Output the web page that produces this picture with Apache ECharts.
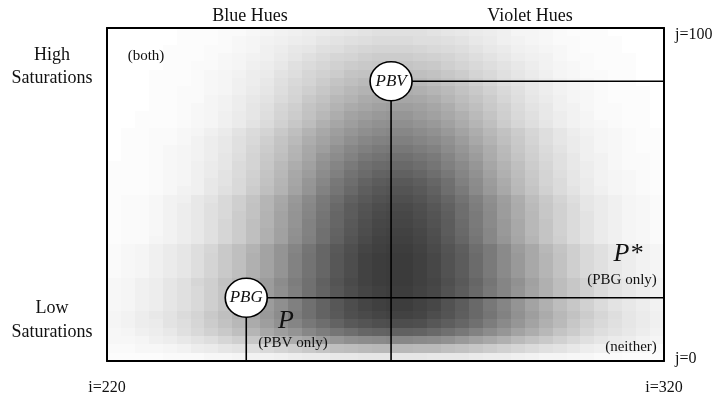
<!DOCTYPE html>
<html>
<head>
<meta charset="utf-8">
<title>Hue / saturation density</title>
<script src="https://cdn.jsdelivr.net/npm/echarts@6/dist/echarts.min.js"></script>
<style>
  html, body { margin: 0; padding: 0; background: #fff; }
  #chart { width: 719px; height: 398px; }
</style>
</head>
<body>
<div id="chart"></div>
<script>
// Hue index i (columns) and saturation index j (rows)
const iRange = [220, 320];
const jRange = [0, 100];
const iTickLabels = ['i=220', 'i=320'];
const jTickLabels = ['j=0', 'j=100'];

// Bin centres of the density grid
const iBins = [221.25, 223.75, 226.25, 228.75, 231.25, 233.75, 236.25, 238.75, 241.25, 243.75,
  246.25, 248.75, 251.25, 253.75, 256.25, 258.75, 261.25, 263.75, 266.25, 268.75,
  271.25, 273.75, 276.25, 278.75, 281.25, 283.75, 286.25, 288.75, 291.25, 293.75,
  296.25, 298.75, 301.25, 303.75, 306.25, 308.75, 311.25, 313.75, 316.25, 318.75];
const jBins = [1.25, 3.75, 6.25, 8.75, 11.25, 13.75, 16.25, 18.75, 21.25, 23.75,
  26.25, 28.75, 31.25, 33.75, 36.25, 38.75, 41.25, 43.75, 46.25, 48.75,
  51.25, 53.75, 56.25, 58.75, 61.25, 63.75, 66.25, 68.75, 71.25, 73.75,
  76.25, 78.75, 81.25, 83.75, 86.25, 88.75, 91.25, 93.75, 96.25, 98.75];

// Density (percent), one row per j bin, listed from j=100 (top) down to j=0
const densityRows = [
  [0,0,0,0,0,1,1,1,2,2,3,4,5,6,7,8,9,10,11,12,12,12,12,11,10,9,8,7,6,4,4,3,2,1,1,1,0,0,0,0],
  [0,0,0,0,0,1,1,1,2,3,4,5,6,7,8,10,11,12,13,14,14,14,13,13,12,11,9,8,6,5,4,3,2,2,1,1,1,0,0,0],
  [0,0,0,0,1,1,1,2,2,3,4,6,7,9,10,12,13,15,16,17,17,17,16,15,14,13,11,9,8,6,5,4,3,2,1,1,1,0,0,0],
  [0,0,0,0,1,1,1,2,3,4,5,6,8,10,12,14,16,17,19,20,20,20,19,18,17,15,13,11,9,7,6,5,3,2,2,1,1,1,0,0],
  [0,0,0,0,1,1,2,2,3,4,6,7,9,12,14,16,18,20,21,22,23,23,22,21,19,17,15,13,11,9,7,5,4,3,2,1,1,1,0,0],
  [0,0,0,1,1,1,2,3,4,5,7,8,11,13,16,18,20,23,24,25,26,26,25,24,22,20,17,15,12,10,8,6,4,3,2,2,1,1,0,0],
  [0,0,0,1,1,1,2,3,4,6,7,9,12,15,17,20,23,25,27,28,29,29,28,26,24,22,19,16,13,11,9,7,5,4,3,2,1,1,0,0],
  [0,0,0,1,1,2,2,3,4,6,8,10,13,16,19,22,25,28,30,31,32,32,31,29,27,24,21,18,15,12,9,7,5,4,3,2,1,1,1,0],
  [0,0,0,1,1,2,2,4,5,7,9,11,14,17,21,24,28,30,33,34,35,35,34,32,29,26,23,20,16,13,10,8,6,4,3,2,1,1,1,0],
  [0,0,0,1,1,2,3,4,5,7,10,12,16,19,23,26,30,33,35,37,38,38,37,35,32,28,25,21,18,14,11,9,6,5,3,2,2,1,1,0],
  [0,0,1,1,1,2,3,4,6,8,10,13,17,20,24,28,32,36,38,40,41,41,39,37,34,31,27,23,19,15,12,9,7,5,4,2,2,1,1,0],
  [0,0,1,1,1,2,3,4,6,8,11,14,18,22,26,31,35,38,41,43,44,44,42,40,37,33,29,25,20,16,13,10,7,5,4,3,2,1,1,0],
  [0,1,1,2,2,3,4,6,8,11,14,17,21,25,30,34,38,41,44,46,47,47,45,43,40,36,32,28,24,20,16,13,10,7,5,4,3,2,1,1],
  [0,1,1,2,2,3,5,7,9,12,15,19,23,27,32,36,40,44,47,49,50,50,48,46,43,39,34,30,25,21,17,13,10,8,6,4,3,2,1,1],
  [0,1,1,2,3,4,5,7,9,12,16,20,24,29,34,38,43,47,50,52,53,53,51,49,45,41,37,32,27,22,18,14,11,8,6,4,3,2,1,1],
  [0,1,1,2,3,4,5,7,10,13,17,21,25,30,35,41,45,49,53,55,56,56,54,52,48,43,39,33,28,23,19,15,12,9,6,5,3,2,2,1],
  [1,1,1,2,3,4,6,8,10,14,17,22,27,32,37,43,48,52,56,58,59,59,57,54,50,46,41,35,30,25,20,16,12,9,7,5,3,2,2,1],
  [1,1,1,2,3,4,6,8,11,14,18,23,28,34,39,45,50,55,58,61,62,62,60,57,53,48,43,37,31,26,21,17,13,10,7,5,4,3,2,1],
  [1,1,1,2,3,4,6,9,11,15,19,24,29,35,41,47,53,57,61,64,65,65,63,60,56,50,45,39,33,27,22,17,14,10,8,5,4,3,2,1],
  [1,1,1,2,3,5,6,9,12,15,20,25,30,36,42,49,54,59,63,66,67,67,65,62,57,52,46,40,34,28,23,18,14,11,8,6,4,3,2,1],
  [1,2,2,3,5,6,9,11,15,19,23,29,34,40,46,52,57,62,65,68,69,69,67,64,60,55,50,44,38,32,26,21,17,13,10,8,6,4,3,2],
  [1,2,2,3,5,7,9,12,15,19,24,29,35,41,47,53,59,64,67,70,71,71,69,66,62,57,51,45,39,33,27,22,18,14,10,8,6,4,3,2],
  [1,2,2,3,5,7,9,12,15,20,24,30,36,42,48,54,60,64,68,71,72,72,70,67,63,57,52,46,39,33,28,22,18,14,11,8,6,4,3,2],
  [1,2,2,3,5,7,9,12,16,20,25,30,36,42,49,55,60,65,69,72,73,73,71,68,64,58,52,46,40,34,28,23,18,14,11,8,6,4,3,2],
  [1,2,2,3,5,7,9,12,16,20,25,31,37,43,49,56,61,66,70,73,74,74,72,69,64,59,53,47,40,34,28,23,18,14,11,8,6,4,3,2],
  [1,2,2,4,5,7,9,12,16,20,25,31,37,44,50,56,62,67,71,74,75,75,73,70,65,60,54,47,41,35,29,23,19,14,11,8,6,4,3,2],
  [2,3,4,6,8,10,13,16,21,25,30,36,42,48,54,60,65,69,73,75,76,76,74,71,67,63,57,52,46,39,34,28,23,19,15,12,9,7,5,4],
  [2,3,4,6,8,10,13,17,21,25,31,36,42,49,55,60,66,70,74,76,77,77,75,72,68,64,58,52,46,40,34,29,24,19,15,12,9,7,5,4],
  [2,3,4,6,8,10,13,17,21,25,31,36,42,49,55,60,66,70,74,76,77,77,75,72,68,64,58,52,46,40,34,29,24,19,15,12,9,7,5,4],
  [2,3,4,6,8,10,13,17,21,25,31,36,42,49,55,60,66,70,74,76,77,77,75,72,68,64,58,52,46,40,34,29,24,19,15,12,9,7,5,4],
  [3,4,6,7,10,12,16,19,24,28,34,39,45,51,56,62,67,71,74,76,77,77,75,73,69,65,60,54,48,43,37,31,26,22,18,14,11,9,7,5],
  [3,4,6,7,10,12,15,19,23,28,33,39,44,50,56,61,66,70,73,75,76,76,74,72,68,64,59,53,48,42,36,31,26,22,18,14,11,9,7,5],
  [3,4,6,7,10,12,15,19,23,28,33,39,44,50,56,61,66,70,73,75,76,76,74,72,68,64,59,53,48,42,36,31,26,22,18,14,11,9,7,5],
  [3,4,6,7,10,12,15,19,23,28,33,39,44,50,56,61,66,70,73,75,76,76,74,72,68,64,59,53,48,42,36,31,26,22,18,14,11,9,7,5],
  [4,5,7,9,11,14,17,21,25,30,35,40,45,51,56,61,65,69,71,73,74,74,73,70,67,63,59,54,49,43,38,33,28,24,20,16,13,10,8,6],
  [4,5,7,8,11,13,16,20,24,28,33,38,43,48,53,57,61,65,67,69,70,70,69,66,63,60,56,51,46,41,36,31,27,22,18,15,12,10,8,6],
  [3,4,6,7,9,12,15,18,21,25,29,34,38,42,47,51,54,57,60,61,62,62,61,59,56,53,49,45,41,36,32,28,23,20,16,13,11,9,7,5],
  [3,3,4,6,7,9,11,13,16,19,22,25,29,32,35,39,41,44,45,46,47,47,46,45,43,40,37,34,31,27,24,21,18,15,12,10,8,7,5,4],
  [2,2,3,3,4,5,7,8,10,11,13,15,17,19,21,23,25,26,27,28,28,28,27,27,25,24,22,20,18,16,14,12,11,9,7,6,5,4,3,2],
  [1,1,1,1,2,2,2,3,3,4,5,5,6,7,8,8,9,9,10,10,10,10,10,9,9,9,8,7,7,6,5,4,4,3,3,2,2,1,1,1]
];

// Reference points: the two hue/saturation markers
const markerNames = ['PBV', 'PBG'];
const markerI = [271, 245];
const markerJ = [84, 19];

// Density cells: [i centre, j centre, density]
const cells = [];
densityRows.forEach(function (row, t) {
  const jc = jBins[densityRows.length - 1 - t];
  row.forEach(function (v, c) { cells.push([iBins[c], jc, v]); });
});
const halfI = (iBins[1] - iBins[0]) / 2;
const halfJ = (jBins[1] - jBins[0]) / 2;

// Cells are snapped to whole pixels so neighbours meet without seams
function renderCell(params, api) {
  const i = api.value(0), j = api.value(1);
  const p0 = api.coord([i - halfI, j + halfJ]);
  const p1 = api.coord([i + halfI, j - halfJ]);
  const x0 = Math.round(p0[0]), y0 = Math.round(p0[1]);
  const x1 = Math.round(p1[0]), y1 = Math.round(p1[1]);
  return {
    type: 'rect',
    shape: { x: x0, y: y0, width: x1 - x0, height: y1 - y0 },
    style: { fill: api.visual('color') }
  };
}

// Each marker drops a line to j=0 and runs a line across to i=320
const guideSeries = markerNames.map(function (name, k) {
  return {
    type: 'line',
    z: 5,
    silent: true,
    symbol: 'none',
    lineStyle: { color: '#000', width: 1.6 },
    data: [[markerI[k], jRange[0]], [markerI[k], markerJ[k]], [iRange[1], markerJ[k]]]
  };
});

const serif = '"Liberation Serif", "Times New Roman", serif';
const frameLine = { show: true, onZero: false, lineStyle: { color: '#000', width: 2 } };

const chart = echarts.init(document.getElementById('chart'), null, { renderer: 'canvas' });
chart.setOption({
  animation: false,
  backgroundColor: '#ffffff',
  grid: { left: 107, top: 28, width: 557, height: 333 },
  xAxis: [
    {
      type: 'value', position: 'bottom', z: 10,
      min: iRange[0], max: iRange[1], interval: iRange[1] - iRange[0],
      axisLine: frameLine, axisTick: { show: false }, splitLine: { show: false },
      axisLabel: {
        margin: 19, color: '#111', fontSize: 16, fontFamily: serif,
        formatter: function (v) { return v === iRange[0] ? iTickLabels[0] : iTickLabels[1]; }
      }
    },
    {
      type: 'value', position: 'top', z: 10,
      min: iRange[0], max: iRange[1],
      axisLine: frameLine, axisTick: { show: false }, splitLine: { show: false },
      axisLabel: { show: false }
    }
  ],
  yAxis: [
    {
      type: 'value', position: 'right', z: 10,
      min: jRange[0], max: jRange[1], interval: jRange[1] - jRange[0],
      axisLine: frameLine, axisTick: { show: false }, splitLine: { show: false },
      axisLabel: {
        margin: 11, color: '#111', fontSize: 16, fontFamily: serif,
        formatter: function (v) {
          return v === jRange[0] ? '{lo|' + jTickLabels[0] + '}' : '{hi|' + jTickLabels[1] + '}';
        },
        rich: {
          lo: { fontSize: 16, fontFamily: serif, color: '#111', padding: [0, 0, 4, 0] },
          hi: { fontSize: 16, fontFamily: serif, color: '#111', padding: [14, 0, 0, 0] }
        }
      }
    },
    {
      type: 'value', position: 'left', z: 10,
      min: jRange[0], max: jRange[1],
      axisLine: frameLine, axisTick: { show: false }, splitLine: { show: false },
      axisLabel: { show: false }
    }
  ],
  visualMap: {
    type: 'continuous', show: false, seriesIndex: 0, dimension: 2,
    min: 0, max: 100,
    inRange: { color: ['#ffffff', '#000000'] }
  },
  series: [
    {
      type: 'custom',
      z: 1,
      silent: true,
      renderItem: renderCell,
      encode: { x: 0, y: 1 },
      data: cells
    }
  ].concat(guideSeries).concat([
    {
      type: 'scatter',
      z: 6,
      silent: true,
      symbol: 'circle',
      symbolSize: [42, 39],
      itemStyle: { color: '#ffffff', opacity: 1, borderColor: '#000', borderWidth: 1.6 },
      label: {
        show: true, position: 'inside',
        formatter: function (p) { return p.data.name; },
        color: '#111', fontSize: 17, fontStyle: 'italic', fontFamily: serif
      },
      data: markerNames.map(function (n, k) { return { name: n, value: [markerI[k], markerJ[k]] }; })
    }
  ]),
  graphic: [
    { type: 'text', x: 250, y: 16, style: { text: 'Blue Hues', font: '18px ' + serif, fill: '#111', align: 'center', verticalAlign: 'middle' } },
    { type: 'text', x: 530, y: 16, style: { text: 'Violet Hues', font: '18px ' + serif, fill: '#111', align: 'center', verticalAlign: 'middle' } },
    { type: 'text', x: 52, y: 67, style: { text: 'High\nSaturations', font: '18px ' + serif, lineHeight: 23, fill: '#111', align: 'center', verticalAlign: 'middle' } },
    { type: 'text', x: 52, y: 320, style: { text: 'Low\nSaturations', font: '18px ' + serif, lineHeight: 24, fill: '#111', align: 'center', verticalAlign: 'middle' } },
    { type: 'text', z: 20, x: 146, y: 56, style: { text: '(both)', font: '15px ' + serif, fill: '#111', align: 'center', verticalAlign: 'middle' } },
    { type: 'text', z: 20, x: 286, y: 321, style: { text: 'P', font: 'italic 26px ' + serif, fill: '#111', align: 'center', verticalAlign: 'middle' } },
    { type: 'text', z: 20, x: 293, y: 343, style: { text: '(PBV only)', font: '15px ' + serif, fill: '#111', align: 'center', verticalAlign: 'middle' } },
    { type: 'text', z: 20, x: 628, y: 254, style: { text: 'P*', font: 'italic 26px ' + serif, fill: '#111', align: 'center', verticalAlign: 'middle' } },
    { type: 'text', z: 20, x: 622, y: 280, style: { text: '(PBG only)', font: '15px ' + serif, fill: '#111', align: 'center', verticalAlign: 'middle' } },
    { type: 'text', z: 20, x: 631, y: 347, style: { text: '(neither)', font: '15px ' + serif, fill: '#111', align: 'center', verticalAlign: 'middle' } }
  ]
});
</script>
</body>
</html>
